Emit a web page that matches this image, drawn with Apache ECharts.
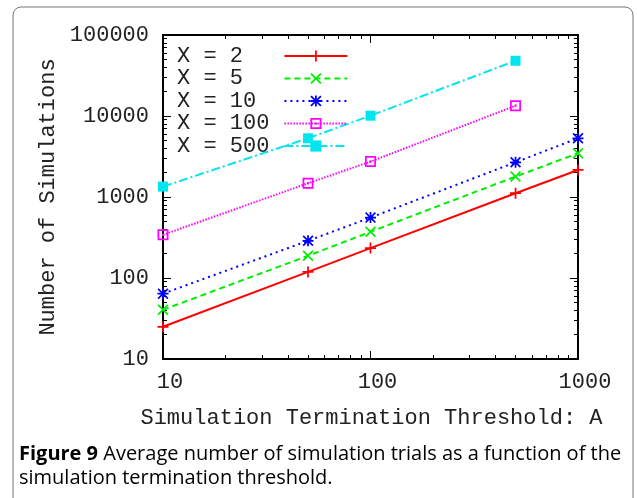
<!DOCTYPE html>
<html><head><meta charset="utf-8">
<script src="https://cdn.jsdelivr.net/npm/echarts@6/dist/echarts.min.js"></script>
<style>html,body{margin:0;padding:0;background:#fff}#c{width:637px;height:498px}</style>
</head><body><div id="c"></div>
<script>
const thresholds = [10, 50, 100, 500, 1000];
const seriesNames = ['X = 2', 'X = 5', 'X = 10', 'X = 100', 'X = 500'];
const simsX2 = [25, 119, 234, 1114, 2158];
const simsX5 = [40.5, 188, 372, 1786, 3467];
const simsX10 = [64, 288, 557, 2685, 5309];
const simsX100 = [341, 1479, 2735, 13400];
const simsX500 = [1343, 5309, 10090, 48100];
const xTickLabels = [10, 100, 1000];
const yTickLabels = [10, 100, 1000, 10000, 100000];

const MONO = '"Liberation Mono", "DejaVu Sans Mono", monospace';
const FS = 22;
const colors = ['#ff0000', '#00ee00', '#0000ff', '#ff00ff', '#00e5ee'];
const plusPath = 'path://M-0.8,-5L0.8,-5L0.8,-0.8L5,-0.8L5,0.8L0.8,0.8L0.8,5L-0.8,5L-0.8,0.8L-5,0.8L-5,-0.8L-0.8,-0.8Z';
const xPath = 'path://M-5,-3.9L-3.9,-5L0,-1.1L3.9,-5L5,-3.9L1.1,0L5,3.9L3.9,5L0,1.1L-3.9,5L-5,3.9L-1.1,0Z';
const starPath = 'path://M-5,-3.9L-3.9,-5L0,-1.1L3.9,-5L5,-3.9L1.1,0L5,3.9L3.9,5L0,1.1L-3.9,5L-5,3.9L-1.1,0Z M-0.8,-5L0.8,-5L0.8,-0.8L5,-0.8L5,0.8L0.8,0.8L0.8,5L-0.8,5L-0.8,0.8L-5,0.8L-5,-0.8L-0.8,-0.8Z';
const boxPath = 'path://M-5,-5L5,-5L5,5L-5,5Z M-3.4,-3.4L-3.4,3.4L3.4,3.4L3.4,-3.4Z M-1,-1L1,-1L1,1L-1,1Z';

function pairs(vals) { return vals.map((v, i) => [thresholds[i], v]); }
const allVals = [simsX2, simsX5, simsX10, simsX100, simsX500];
const symbols = [plusPath, xPath, starPath, boxPath, 'rect'];
const symSizes = [11, 11, 11, 11, 10];
const dashes = ['solid', [6, 4], [2, 4], [1.5, 1.5], [9, 3, 2, 3]];

function axisCommon(pos, showLabels) {
  return {
    type: 'log', logBase: 10, position: pos,
    axisLine: { show: true, onZero: false, lineStyle: { color: '#000', width: 2 } },
    axisTick: { show: true, inside: true, length: 8, lineStyle: { color: '#000', width: 1 } },
    minorTick: { show: true, splitNumber: 9, length: 4, lineStyle: { color: '#000', width: 1 } },
    splitLine: { show: false },
    axisLabel: { show: showLabels, fontFamily: MONO, fontSize: FS, color: '#222',
      formatter: v => String(Math.round(v)) }
  };
}

const xBottom = axisCommon('bottom', true);
xBottom.axisLabel.margin = 12;
xBottom.axisLabel.padding = [0, 0, 0, 14];
const yLeft = axisCommon('left', true);
yLeft.axisLabel.margin = 14;

const chart = echarts.init(document.getElementById('c'), null, { renderer: 'canvas' });
chart.setOption({
  animation: false,
  backgroundColor: '#fff',
  grid: { left: 163, right: 59, top: 35, bottom: 139, containLabel: false },
  xAxis: [
    Object.assign(xBottom, { min: xTickLabels[0], max: xTickLabels[xTickLabels.length - 1],
      name: 'Simulation Termination Threshold: A', nameLocation: 'middle', nameGap: 48,
      nameTextStyle: { fontFamily: MONO, fontSize: FS, color: '#222', padding: [0, 0, 0, 2] } }),
    Object.assign(axisCommon('top', false), { min: xTickLabels[0], max: xTickLabels[xTickLabels.length - 1] })
  ],
  yAxis: [
    Object.assign(yLeft, { min: yTickLabels[0], max: yTickLabels[yTickLabels.length - 1],
      name: 'Number of Simulations', nameLocation: 'middle', nameGap: 95,
      nameTextStyle: { fontFamily: MONO, fontSize: FS, color: '#222' } }),
    Object.assign(axisCommon('right', false), { min: yTickLabels[0], max: yTickLabels[yTickLabels.length - 1] })
  ],
  legend: {
    orient: 'vertical', left: 172, top: 40, align: 'right',
    itemWidth: 63, itemHeight: 14, itemGap: 0.5,
    formatter: name => name.padEnd(7, ' '),
    textStyle: { fontFamily: MONO, fontSize: FS, color: '#222', lineHeight: 22, padding: [0, 10, 0, 0] },
    data: seriesNames
  },
  series: allVals.map((vals, i) => ({
    name: seriesNames[i], type: 'line', data: pairs(vals),
    xAxisIndex: 0, yAxisIndex: 0,
    symbol: symbols[i], symbolSize: symSizes[i], showSymbol: true,
    lineStyle: { color: colors[i], width: 2, type: dashes[i] },
    itemStyle: { color: colors[i] }
  })),
  graphic: [
    { type: 'rect', z: -10, shape: { x: 13, y: 7, width: 620, height: 520, r: 8 },
      style: { fill: 'none', stroke: '#777', lineWidth: 1 } },
    { type: 'text', left: 19, top: 442, style: {
      text: '{b|Figure 9} Average number of simulation trials as a function of the\nsimulation termination threshold.',
      fontFamily: '"Open Sans", sans-serif', fontSize: 20, fill: '#000', lineHeight: 24,
      rich: { b: { fontWeight: 'bold', fontFamily: '"Open Sans", sans-serif', fontSize: 20, fill: '#000' } } } }
  ]
});
</script></body></html>
